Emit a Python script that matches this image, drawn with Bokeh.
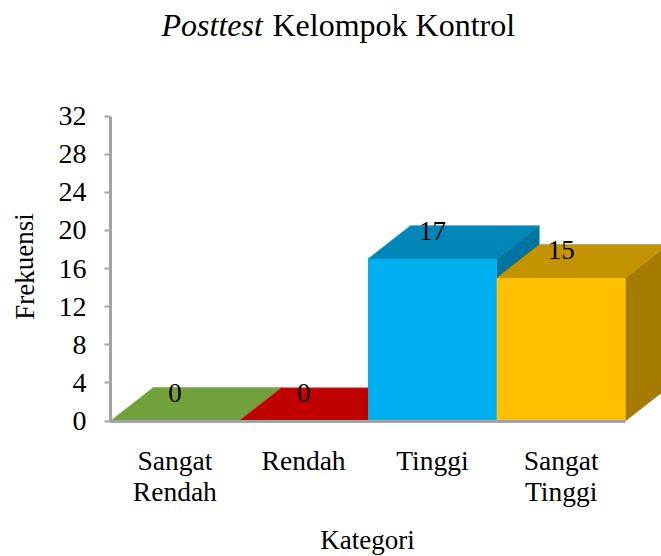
import math
from bokeh.plotting import figure
from bokeh.models import Range1d, FixedTicker, LinearAxis
from bokeh.embed import file_html
from bokeh.resources import INLINE
from bokeh.core.properties import value

categories = ["Sangat\nRendah", "Rendah", "Tinggi", "Sangat\nTinggi"]
frekuensi = [0, 0, 17, 15]
front_colors = ["#71A13B", "#C00000", "#00B0F0", "#FFC000"]
top_colors = ["#71A13B", "#C00000", "#0087B8", "#C49300"]
side_colors = ["#5A8030", "#990000", "#0074A0", "#A67C00"]
y_ticks = [0, 4, 8, 12, 16, 20, 24, 28, 32]

W, H = 661, 556
X0_PX, Y0_PX = 110.0, 420.5      # where value 0 / category 0 sit on the canvas
PX_PER_X, PX_PER_Y = 128.75, 9.53

def ux(px):
    return (px - X0_PX) / PX_PER_X

def uy(py):
    return (Y0_PX - py) / PX_PER_Y

FONT = "Liberation Serif"
GRAY = "#A3A3A3"
EDGE = "#A0A0A0"
DX = 0.33     # 3D depth, x units
DY = 3.5      # 3D depth, y units
LABEL_LIFT = 2.95

p = figure(width=W, height=H, output_backend="svg", toolbar_location=None,
           x_range=Range1d(ux(0), ux(W)), y_range=Range1d(uy(H), uy(0)),
           x_axis_location=None, y_axis_location=None,
           min_border=0, min_border_left=0, min_border_right=0, min_border_top=0, min_border_bottom=0)
p.outline_line_color = None
p.grid.visible = False

for i, v in enumerate(frekuensi):
    x0, x1 = i, i + 1
    p.patch([x1, x1 + DX, x1 + DX, x1], [0, DY, v + DY, v], fill_color=side_colors[i], line_color=side_colors[i], line_width=0.5)
    p.patch([x0, x0 + DX, x1 + DX, x1], [v, v + DY, v + DY, v], fill_color=top_colors[i], line_color=top_colors[i], line_width=0.5)
    p.line([x0 + DX, x1 + DX], [v + DY, v + DY], line_color=EDGE, line_width=1)
    if v > 0:
        p.quad(left=[x0], right=[x1], bottom=[0], top=[v], fill_color=front_colors[i], line_color=None)

p.text(x=[i + 0.5 for i in range(4)], y=[v + LABEL_LIFT for v in frekuensi],
       text=[str(v) for v in frekuensi], text_font=value(FONT), text_font_size="27px",
       text_color="black", text_align="center", text_baseline="middle")

ax = LinearAxis(fixed_location=0)
ax.ticker = FixedTicker(ticks=y_ticks)
ax.bounds = (0, 32)
ax.minor_tick_line_color = None
ax.major_tick_in = 0
ax.major_tick_out = 6
ax.major_tick_line_color = GRAY
ax.major_tick_line_width = 2
ax.axis_line_color = GRAY
ax.axis_line_width = 3
ax.major_label_text_font = FONT
ax.major_label_text_font_size = "28px"
ax.major_label_text_color = "black"
ax.major_label_standoff = 18
p.add_layout(ax, "left")

bx = LinearAxis(fixed_location=0)
bx.ticker = FixedTicker(ticks=[i + 0.5 for i in range(4)])
bx.major_label_overrides = {i + 0.5: c for i, c in enumerate(categories)}
bx.bounds = (0, 4)
bx.minor_tick_line_color = None
bx.major_tick_line_color = None
bx.axis_line_color = GRAY
bx.axis_line_width = 3
bx.major_label_text_font = FONT
bx.major_label_text_font_size = "27.5px"
bx.major_label_text_color = "black"
bx.major_label_text_line_height = 1.0
bx.major_label_standoff = 18
p.add_layout(bx, "below")

p.text(x=[ux(161)], y=[uy(24)], text=["Posttest"], text_font=value(FONT), text_font_style="italic",
       text_font_size="32px", text_color="black", text_align="left", text_baseline="middle")
p.text(x=[ux(272)], y=[uy(24)], text=["Kelompok Kontrol"], text_font=value(FONT),
       text_font_size="32px", text_color="black", text_align="left", text_baseline="middle")
p.text(x=[ux(367)], y=[uy(539)], text=["Kategori"], text_font=value(FONT),
       text_font_size="27px", text_color="black", text_align="center", text_baseline="middle")
p.text(x=[ux(24)], y=[uy(266)], text=["Frekuensi"], text_font=value(FONT), angle=[math.pi / 2],
       text_font_size="27px", text_color="black", text_align="center", text_baseline="middle")

open("out.html", "w").write(file_html(p, INLINE))
